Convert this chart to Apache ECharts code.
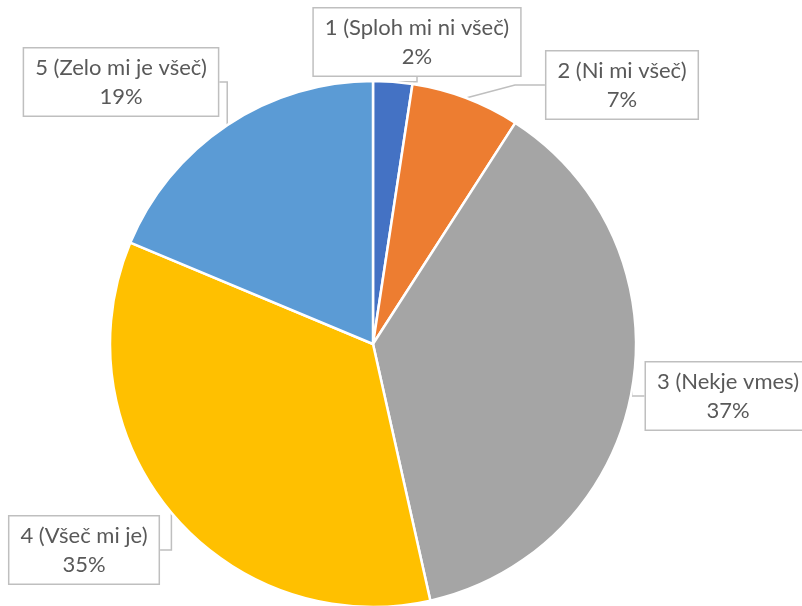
<!DOCTYPE html>
<html>
<head>
<meta charset="utf-8">
<script src="https://cdn.jsdelivr.net/npm/echarts@6/dist/echarts.min.js"></script>
<style>
html, body { margin: 0; padding: 0; background: #fff; }
#main { width: 802px; height: 606px; }
</style>
</head>
<body>
<div id="main"></div>
<script>
// kategorije in deleži (odčitano s slike)
var categories = ['1 (Sploh mi ni všeč)', '2 (Ni mi všeč)', '3 (Nekje vmes)', '4 (Všeč mi je)', '5 (Zelo mi je všeč)'];
var values = [2.4, 6.7, 37.4, 34.8, 18.7];
var colors = ['#4472C4', '#ED7D31', '#A5A5A5', '#FFC000', '#5B9BD5'];

// središča oznak
var labelPos = [[417, 42], [622, 85], [728, 396], [84, 550], [121, 82]];

var chart = echarts.init(document.getElementById('main'));
chart.setOption({
	animation: false,
	color: colors,
	series: [{
		type: 'pie',
		center: [373, 344],
		radius: 263,
		startAngle: 90,
		percentPrecision: 0,
		avoidLabelOverlap: false,
		bleedMargin: -400,
		data: categories.map(function (c, i) { return { name: c, value: values[i] }; }),
		itemStyle: { borderColor: '#fff', borderWidth: 2.5 },
		label: {
			show: true,
			position: 'outside',
			formatter: '{b}\n{d}%',
			fontFamily: 'Lato',
			fontSize: 22,
			lineHeight: 29,
			color: '#595959',
			backgroundColor: '#fff',
			borderColor: '#BFBFBF',
			borderWidth: 1.5,
			padding: [5, 11, 4, 11],
			align: 'center',
			overflow: 'none'
		},
		labelLine: {
			show: true,
			lineStyle: { color: '#BFBFBF', width: 1.5 }
		},
		labelLayout: function (p) {
			var pos = labelPos[p.dataIndex];
			return { x: pos[0], y: pos[1], align: 'center', verticalAlign: 'middle' };
		}
	}]
});
</script>
</body>
</html>
